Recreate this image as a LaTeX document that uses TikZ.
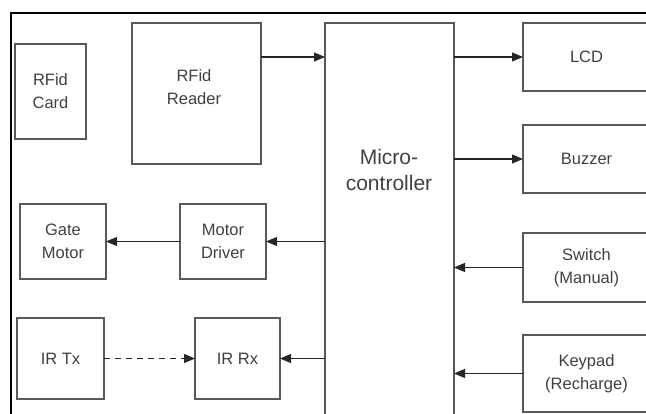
\documentclass[tikz,border=0pt]{standalone}
\usepackage{fontspec}
\usetikzlibrary{arrows.meta}
\newfontfamily\blockfont{Liberation Sans}
\newcommand{\lblfont}{\blockfont\fontsize{16.5}{23}\selectfont}
\newcommand{\mcfont}{\blockfont\fontsize{21}{26}\selectfont}

\begin{document}
\begin{tikzpicture}[x=1pt,y=-1pt,
  blk/.style={draw=black!65,line width=1.6pt,inner sep=0pt,outer sep=0pt,align=center,font=\lblfont,text=black!75},
  txt/.style={align=center,font=\lblfont,text=black!75},
  arr/.style={draw=black!85,line width=1.2pt,-{Triangle[length=11pt,width=9pt]}}]
\useasboundingbox (0,0) rectangle (646,414);
\clip (0,0) rectangle (646,414);
% outer frame
\draw[line width=1.8pt] (11,440) -- (11,13) -- (660,13);
% left part
\node[blk,minimum width=71pt,minimum height=95pt] (card) at (50.5,91.5) {RFid\\Card};
\node[blk,minimum width=129pt,minimum height=141pt] (reader) at (196.5,93.5) {};
\node[txt] (readertext) at (194,87) {RFid\\Reader};
\node[blk,minimum width=86pt,minimum height=75pt] (gate) at (63,241.5) {Gate\\Motor};
\node[blk,minimum width=86pt,minimum height=75pt] (driver) at (223,241.5) {Motor\\Driver};
\node[blk,minimum width=87pt,minimum height=81pt] (irtx) at (60.5,358.5) {IR Tx};
\node[blk,minimum width=85pt,minimum height=81pt] (irrx) at (237.5,358.5) {IR Rx};
% microcontroller
\node[blk,minimum width=129pt,minimum height=417pt] (mc) at (389.5,231.5) {};
\node[txt,font=\mcfont] (mctext) at (389,170) {Micro-\\controller};
% right part
\node[blk,minimum width=127pt,minimum height=68pt] (lcd) at (586.5,57) {LCD};
\node[blk,minimum width=127pt,minimum height=68pt] (buzzer) at (586.5,159) {Buzzer};
\node[blk,minimum width=127pt,minimum height=69pt] (switch) at (586.5,267.5) {Switch\\(Manual)};
\node[blk,minimum width=127pt,minimum height=77pt] (keypad) at (586.5,373.5) {Keypad\\(Recharge)};
% connections
\draw[arr] (reader.east |- lcd) -- (mc.west |- lcd);
\draw[arr] (mc.east |- lcd) -- (lcd.west);
\draw[arr] (mc.east |- buzzer) -- (buzzer.west);
\draw[arr] (switch.west) -- (mc.east |- switch);
\draw[arr] (keypad.west) -- (mc.east |- keypad);
\draw[arr] (mc.west |- driver) -- (driver.east);
\draw[arr] (driver.west) -- (gate.east);
\draw[arr] (mc.west |- irrx) -- (irrx.east);
\draw[arr,dash pattern=on 6pt off 5pt] (irtx.east) -- (irrx.west);
\end{tikzpicture}
\end{document}
